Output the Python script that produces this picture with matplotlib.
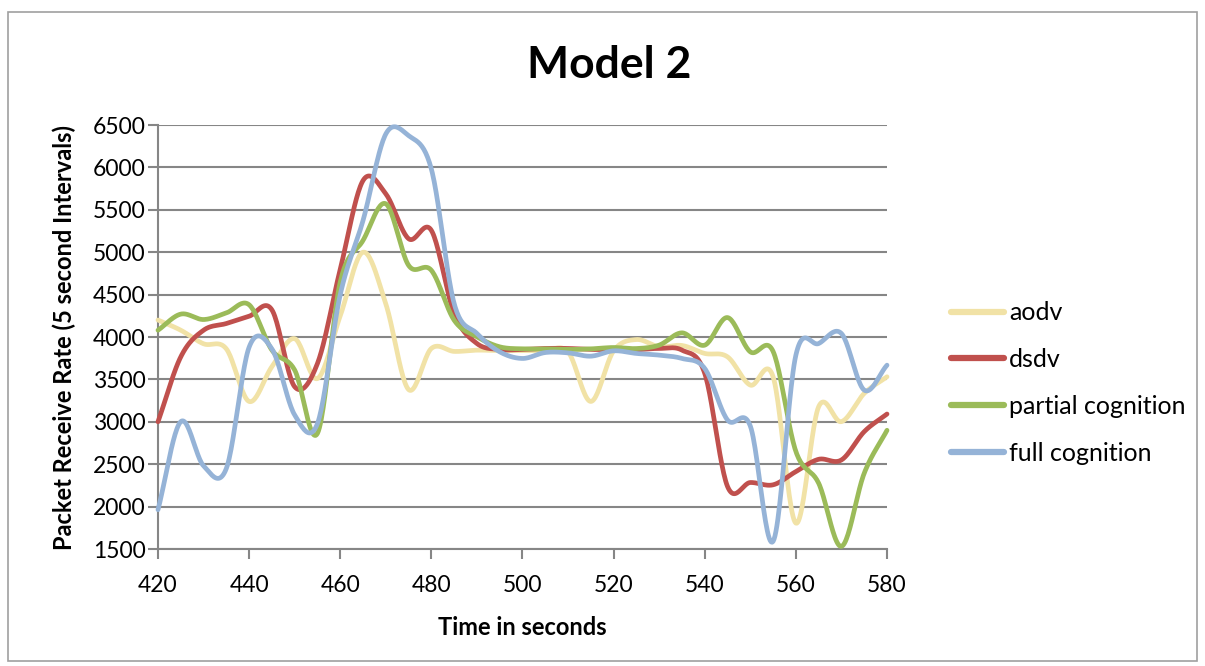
import numpy as np
import matplotlib
matplotlib.use("Agg")
import matplotlib.pyplot as plt
from matplotlib.patches import Rectangle

time_s = list(range(420, 585, 5))
aodv = [4200, 4080, 3920, 3860, 3240, 3650, 3980, 3510, 4250, 5000, 4390, 3380, 3865,
        3830, 3845, 3840, 3840, 3840, 3825, 3240, 3837, 3970, 3884, 3900, 3806, 3766,
        3433, 3531, 1805, 3178, 3002, 3335, 3531]
dsdv = [3000, 3766, 4080, 4159, 4245, 4320, 3413, 3688, 4800, 5845, 5688, 5159, 5257,
        4276, 3923, 3853, 3853, 3865, 3865, 3853, 3853, 3850, 3865, 3845, 3570, 2237,
        2284, 2257, 2413, 2558, 2550, 2884, 3092]
partial = [4080, 4270, 4206, 4284, 4380, 3845, 3610, 2864, 4650, 5139, 5571, 4845, 4786,
           4198, 4002, 3884, 3860, 3860, 3853, 3860, 3876, 3864, 3904, 4049, 3904, 4229,
           3825, 3830, 2650, 2276, 1531, 2394, 2900]
full = [1963, 3002, 2480, 2450, 3880, 3860, 3080, 2980, 4500, 5374, 6394, 6375, 5980,
        4394, 4041, 3825, 3747, 3817, 3813, 3774, 3837, 3806, 3786, 3747, 3629, 3021,
        2950, 1590, 3786, 3923, 4041, 3374, 3668]
series_names = ["aodv", "dsdv", "partial cognition", "full cognition"]
colors = ["#F1E2A6", "#C0504D", "#9BBB59", "#95B3D7"]
y_ticks = list(range(1500, 7000, 500))
x_ticks = list(range(420, 600, 20))


def smooth(x, y, n=24):
    x = np.asarray(x, float)
    y = np.asarray(y, float)
    px = np.concatenate([[2 * x[0] - x[1]], x, [2 * x[-1] - x[-2]]])
    py = np.concatenate([[2 * y[0] - y[1]], y, [2 * y[-1] - y[-2]]])
    xs, ys = [], []
    t = np.linspace(0, 1, n, endpoint=False)
    for i in range(1, len(px) - 2):
        p0 = np.array([px[i], py[i]])
        p3 = np.array([px[i + 1], py[i + 1]])
        c1 = p0 + (np.array([px[i + 1], py[i + 1]]) - np.array([px[i - 1], py[i - 1]])) / 6
        c2 = p3 - (np.array([px[i + 2], py[i + 2]]) - np.array([px[i], py[i]])) / 6
        b = ((1 - t) ** 3)[:, None] * p0 + (3 * (1 - t) ** 2 * t)[:, None] * c1 + \
            (3 * (1 - t) * t ** 2)[:, None] * c2 + (t ** 3)[:, None] * p3
        xs.extend(b[:, 0])
        ys.extend(b[:, 1])
    xs.append(x[-1])
    ys.append(y[-1])
    return np.array(xs), np.array(ys)


plt.rcParams['font.family'] = ['Lato', 'DejaVu Sans']
W, H = 1205, 666
fig = plt.figure(figsize=(W / 100, H / 100), dpi=100)
fig.patches.append(Rectangle((8 / W, 1 - 661 / H), 1189 / W, 649 / H, transform=fig.transFigure,
                             fill=False, edgecolor="#A0A0A0", linewidth=1.2))
ax = fig.add_axes([158 / W, 1 - 549 / H, (887 - 158) / W, (549 - 125) / H])

for name, vals, c in zip(series_names, [aodv, dsdv, partial, full], colors):
    sx, sy = smooth(time_s, vals)
    ax.plot(sx, sy, color=c, linewidth=3.4, label=name, solid_capstyle='round', clip_on=False, zorder=3)

ax.set_xlim(420, 580)
ax.set_ylim(1500, 6500)
ax.set_yticks(y_ticks)
ax.set_xticks(x_ticks)
ax.yaxis.grid(True, color="#868686", linewidth=1.5)
ax.set_axisbelow(True)
for s in ["top", "right"]:
    ax.spines[s].set_visible(False)
ax.spines["left"].set_color("#868686")
ax.spines["bottom"].set_color("#868686")
ax.spines["left"].set_linewidth(1.5)
ax.spines["bottom"].set_linewidth(1.5)
ax.tick_params(axis='both', colors="#868686", labelcolor="black", labelsize=16.5, width=1.5, length=7)
ax.tick_params(axis='y', pad=2)
ax.tick_params(axis='x', pad=12)

fig.text(609 / W, 1 - 65 / H, "Model 2", ha="center", va="center", fontsize=32, fontweight="bold")
ax.set_xlabel("Time in seconds", fontsize=17, fontweight="bold", labelpad=14)
ax.set_ylabel("Packet Receive Rate (5 second Intervals)", fontsize=17, fontweight="bold", labelpad=12)

leg = fig.legend(loc="center left", bbox_to_anchor=(928 / W, 1 - 383 / H), frameon=False,
                 fontsize=18, handlelength=2.15, handletextpad=0.2, labelspacing=0.95)
for l in leg.get_lines():
    l.set_linewidth(4.5)

fig.savefig("out.png", dpi=100)
